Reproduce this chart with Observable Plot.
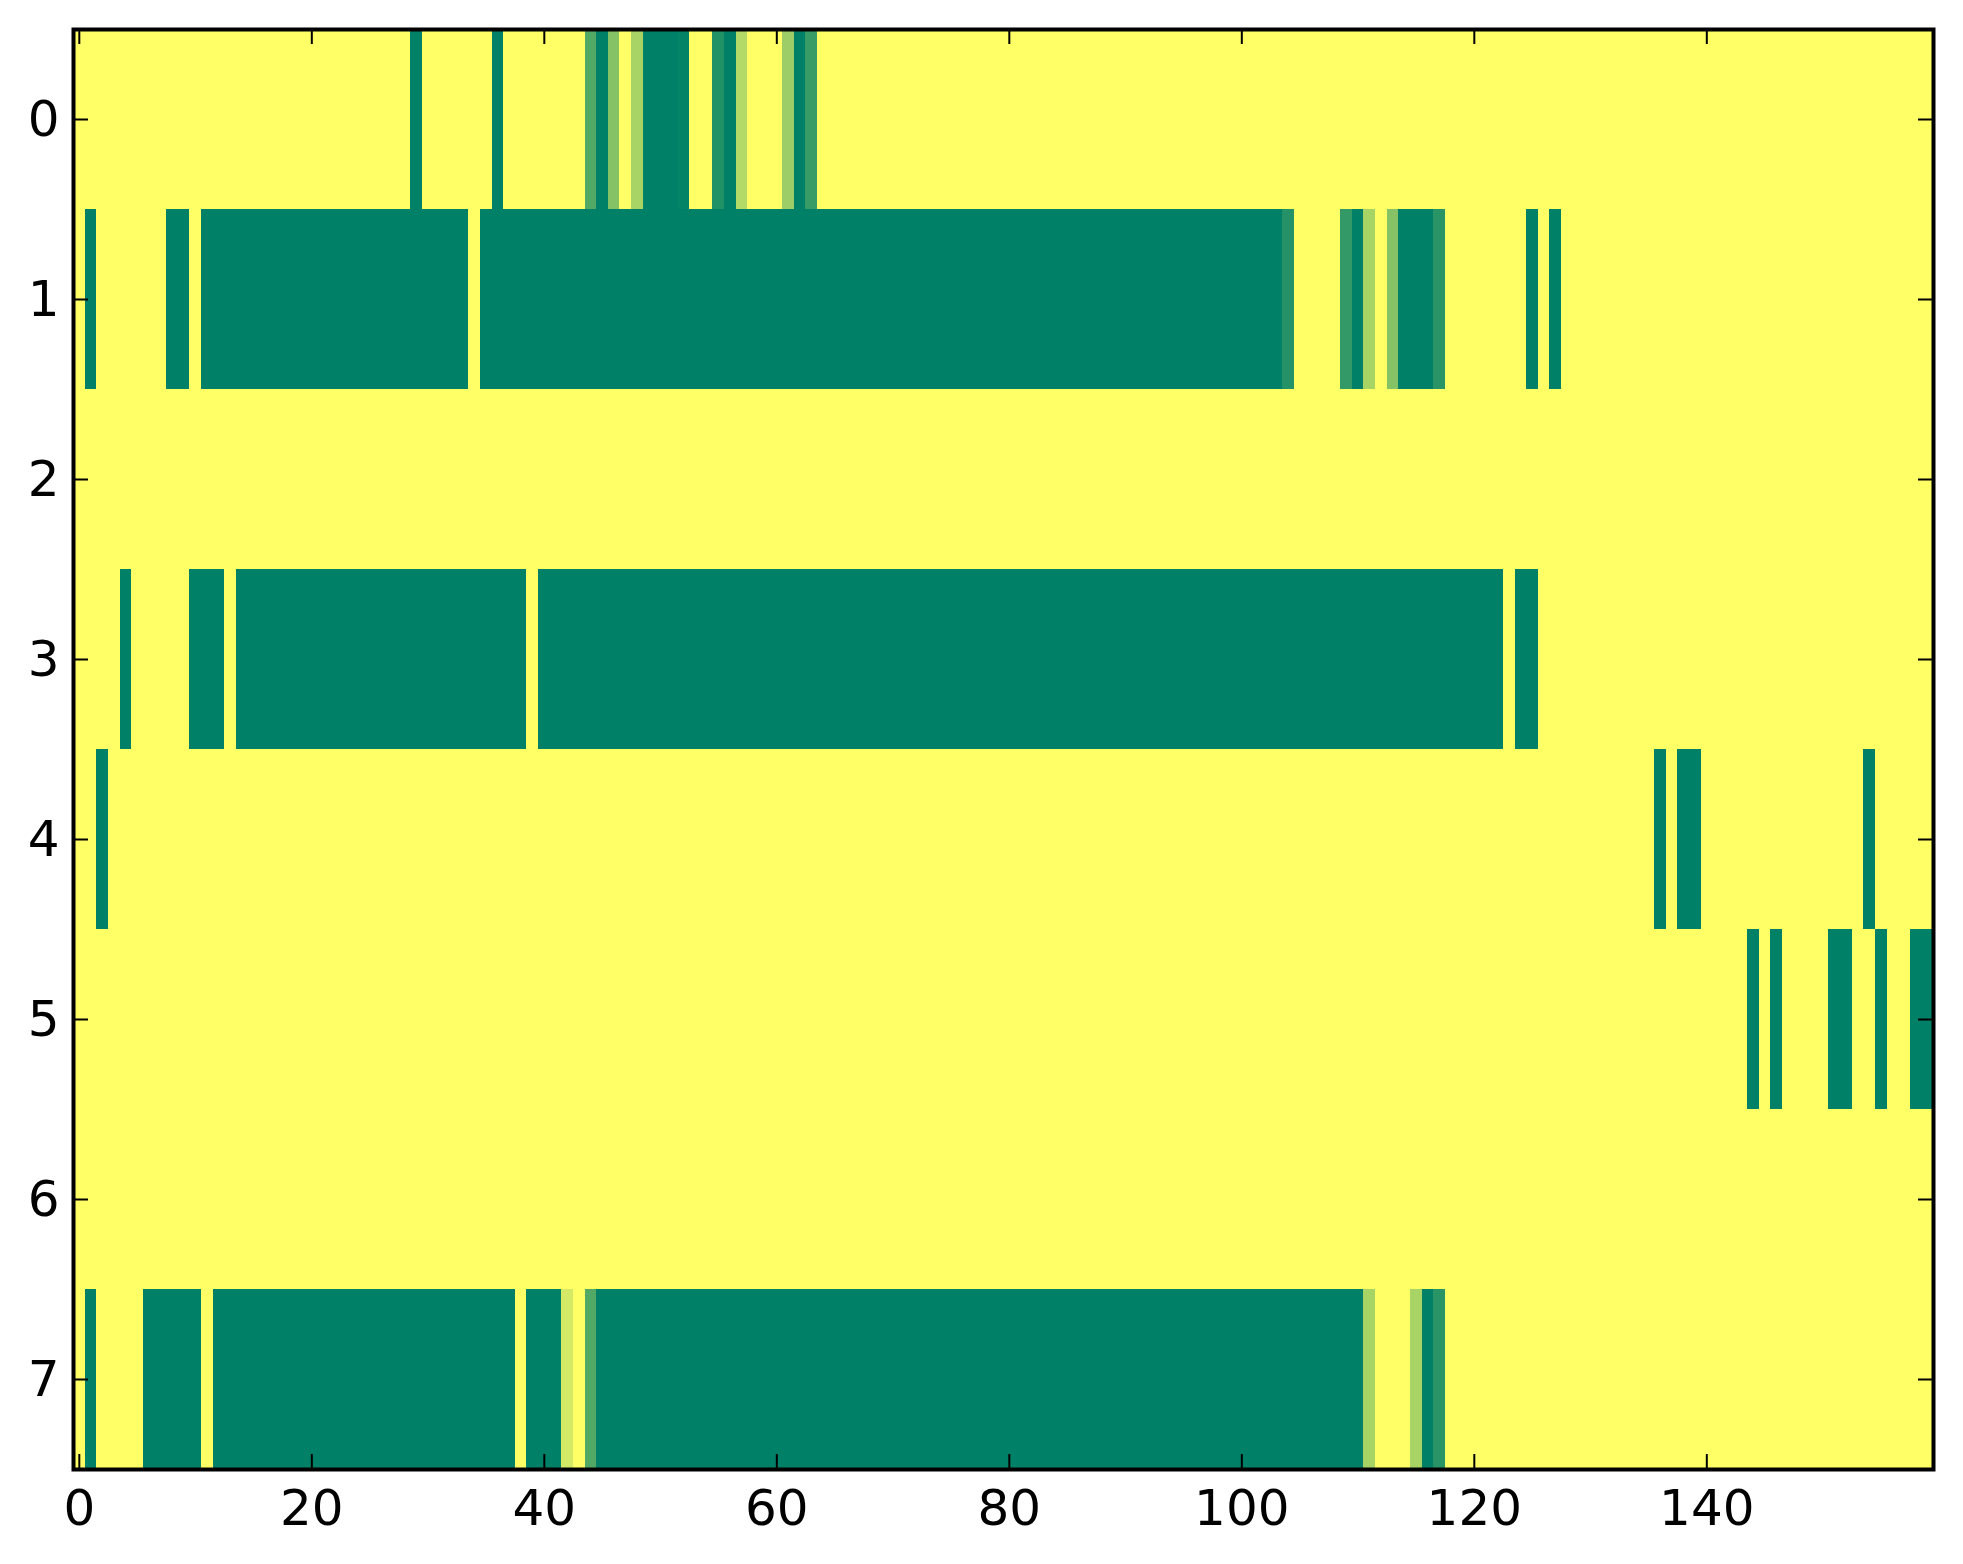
<!DOCTYPE html>
<html>
<head>
<meta charset="utf-8">
<script src="https://cdn.jsdelivr.net/npm/d3@7"></script>
<script src="https://cdn.jsdelivr.net/npm/@observablehq/plot@0.6"></script>
<style>
  html, body { margin: 0; padding: 0; background: white; }
  #chart { width: 1963px; height: 1564px; }
</style>
</head>
<body>
<div id="chart"></div>
<script>
// Run-length rows: [value, number of consecutive columns], 160 columns per row
const row0 = [[1,29],[0,1],[1,6],[0,1],[1,7],[0.32,1],[0,1],[0.52,1],[1,1],[0.66,1],[0,3],[0.02,1],[1,2],[0.13,1],[0,1],[0.70,1],[1,3],[0.61,1],[0,1],[0.22,1],[1,96]];
const row1 = [[1,1],[0,1],[1,6],[0,2],[1,1],[0,23],[1,1],[0,69],[0.14,1],[1,4],[0.2,1],[0,1],[0.66,1],[1,1],[0.52,1],[0,3],[0.16,1],[1,7],[0,1],[1,1],[0,1],[1,32]];
const row2 = [[1,160]];
const row3 = [[1,4],[0,1],[1,5],[0,3],[1,1],[0,25],[1,1],[0,83],[1,1],[0,2],[1,34]];
const row4 = [[1,2],[0,1],[1,133],[0,1],[1,1],[0,2],[1,14],[0,1],[1,5]];
const row5 = [[1,144],[0,1],[1,1],[0,1],[1,4],[0,2],[1,2],[0,1],[1,2],[0,2]];
const row6 = [[1,160]];
const row7 = [[1,1],[0,1],[1,4],[0,5],[1,1],[0,26],[1,1],[0,3],[0.83,1],[1,1],[0.32,1],[0,66],[0.66,1],[1,3],[0.66,1],[0,1],[0.16,1],[1,42]];
const rows = [row0,row1,row2,row3,row4,row5,row6,row7];

const nCols = 160;
const xTicks = [0,20,40,60,80,100,120,140];
const yTicks = [0,1,2,3,4,5,6,7];

const cells = [];
rows.forEach((runs, r) => {
  let c = 0;
  for (const [v, n] of runs) {
    for (let i = 0; i < n; i++) cells.push({col: c++, row: r, value: v});
  }
  if (c !== nCols) console.warn("row", r, "has", c, "columns");
});

const W = 1963, H = 1564;
const mL = 73, mR = 30, mT = 29, mB = 95;
const plotW = W - mL - mR, plotH = H - mT - mB;
const tickLen = 15;

const chart = Plot.plot({
  width: W, height: H,
  marginLeft: mL, marginRight: mR, marginTop: mT, marginBottom: mB,
  style: {fontFamily: "'DejaVu Sans', sans-serif", fontSize: "50px", background: "white", color: "black"},
  x: {type: "band", domain: d3.range(nCols), padding: 0, axis: null},
  y: {type: "band", domain: yTicks, padding: 0, axis: null},
  color: {type: "linear", domain: [0, 1], range: ["rgb(0,128,102)", "rgb(255,255,102)"], interpolate: "rgb"},
  marks: [
    Plot.cell(cells, {x: "col", y: "row", fill: "value", inset: 0, shapeRendering: "crispEdges"}),
    // inward ticks on all four sides
    Plot.tickX(xTicks, {x: d => d, insetTop: plotH - tickLen, stroke: "black", strokeWidth: 2}),
    Plot.tickX(xTicks, {x: d => d, insetBottom: plotH - tickLen, stroke: "black", strokeWidth: 2}),
    Plot.tickY(yTicks, {y: d => d, insetRight: plotW - tickLen, stroke: "black", strokeWidth: 2}),
    Plot.tickY(yTicks, {y: d => d, insetLeft: plotW - tickLen, stroke: "black", strokeWidth: 2}),
    Plot.axisX(xTicks, {anchor: "bottom", tickSize: 0, tickPadding: 20, fontSize: 50, label: null}),
    Plot.axisY(yTicks, {anchor: "left", tickSize: 0, tickPadding: 14, fontSize: 50, label: null}),
    Plot.frame({stroke: "black", strokeWidth: 4})
  ]
});
document.getElementById("chart").appendChild(chart);
</script>
</body>
</html>
